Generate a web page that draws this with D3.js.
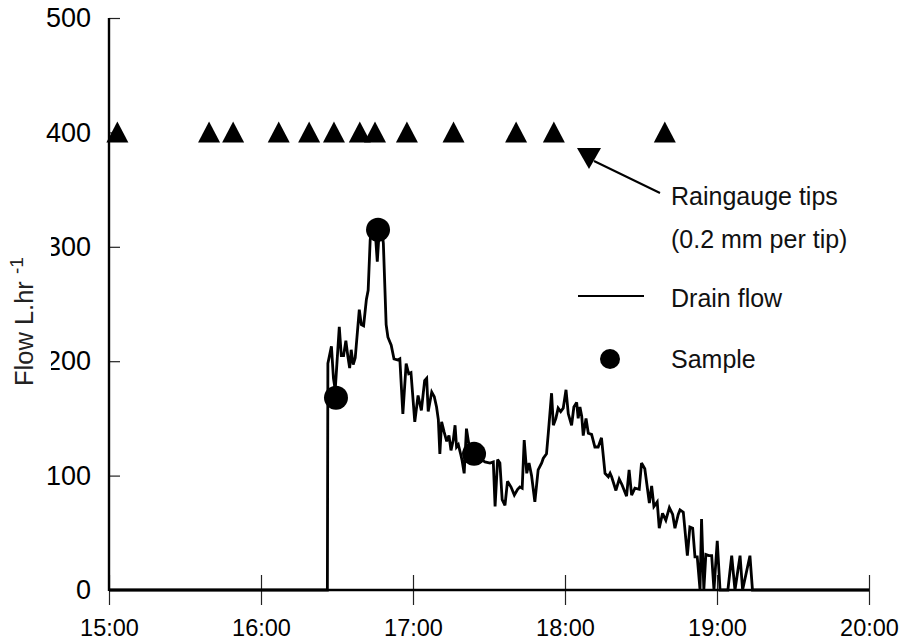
<!DOCTYPE html>
<html>
<head>
<meta charset="utf-8">
<script src="https://cdn.jsdelivr.net/npm/d3@7"></script>
<style>
  html, body { margin: 0; padding: 0; background: #fff; }
  svg { display: block; font-family: "Liberation Sans", Arial, sans-serif; }
</style>
</head>
<body>
<svg id="chart" width="899" height="643"></svg>
<script>
// Drain flow record, minutes after 15:00 and flow in L/hr
const flowMinutes = [0, 86.2, 86.4, 87.8, 88.6, 89.3, 90.9, 91.7, 92.6, 93.5, 94.3, 95.0, 95.6, 96.4, 97.2,
  98.8, 99.6, 100.5, 101.6, 102.3, 103.1, 103.8, 105.0, 105.9, 106.8, 107.7, 108.3, 109.4, 110.1,
  111.4, 112.5, 114.0, 114.8, 116.0, 117.3, 118.3, 119.2, 120.7, 122.0, 123.3, 124.6, 125.4, 126.0,
  127.4, 128.4, 129.3, 130.0, 130.6, 131.3, 132.3, 133.3, 134.2, 135.0, 135.9, 136.6, 137.2, 137.9,
  138.9, 139.4, 140.2, 141.1, 141.8, 142.5, 143.3, 144.5, 146.4, 148.4, 150.4, 151.7, 152.4, 153.4,
  154.3, 155.2, 156.3, 157.3, 158.7, 160.0, 161.3, 162.2, 163.1, 163.9, 164.9, 165.8, 166.8, 168.1,
  169.4, 170.8, 171.4, 172.7, 173.4, 174.7, 175.4, 176.4, 177.3, 178.3, 179.3, 180.4, 181.3, 182.6,
  183.5, 184.6, 185.2, 185.9, 186.6, 187.2, 188.3, 189.2, 190.5, 191.8, 193.1, 194.4, 195.8, 197.1,
  197.8, 198.4, 200.1, 201.4, 202.5, 204.3, 205.3, 206.3, 207.6, 209.3, 210.2, 211.5, 213.3, 214.2,
  215.1, 216.4, 217.2, 218.5, 219.8, 221.2, 222.5, 223.4, 224.7, 225.4, 226.7, 228.3, 229.3, 230.4,
  231.3, 232.2, 233.3, 233.9, 234.8, 235.6, 236.8, 237.9, 238.8, 240.1, 241.2, 244.3, 245.8, 247.1,
  249.1, 250.1, 253.0, 254.0, 300];
const flowValues = [0, 0, 198, 213, 185, 175, 230, 205, 205, 218, 204, 194, 210, 197, 203,
  245, 232, 231, 254, 262, 306, 318, 316, 287, 318, 316, 303, 232, 221,
  214, 202, 201, 202, 154, 198, 189, 190, 147, 170, 157, 183, 185, 156,
  173, 169, 160, 149, 119, 147, 138, 130, 135, 122, 131, 144, 125, 127,
  118, 113, 102, 141, 131, 122, 112, 114, 115, 112, 111, 112, 73, 114,
  111, 79, 74, 95, 90, 83, 88, 90, 89, 131, 102, 111, 100, 77,
  105, 111, 115, 119, 137, 172, 144, 150, 159, 156, 159, 175, 154, 144,
  160, 164, 150, 160, 152, 135, 150, 137, 136, 125, 125, 133, 102, 99,
  102, 99, 87, 97, 92, 82, 105, 83, 89, 88, 111, 106, 76, 91,
  73, 77, 54, 67, 61, 72, 66, 54, 66, 70, 68, 30, 55, 54,
  29, 29, 0, 62, 0, 31, 30, 30, 0, 43, 0, 0, 30, 0,
  30, 0, 30, 0, 0];

// Water samples taken during the event
const sampleMinutes = [89.6, 106.2, 144.1];
const sampleValues = [168, 315, 119];

// Raingauge tips (plotted at 400 on the flow axis)
const tipMinutes = [3.3, 39.5, 49, 67, 79, 88.8, 99, 105, 117.6, 136, 160.7, 175.6, 219.4];
const tipLevel = 400;

const yTicks = [0, 100, 200, 300, 400, 500];
const xTickHours = [15, 16, 17, 18, 19, 20];

const legendLabels = ["Raingauge tips", "(0.2 mm per tip)", "Drain flow", "Sample"];

const start = new Date(2000, 0, 1, 15, 0, 0);
const toTime = m => new Date(start.getTime() + m * 60000);

const svg = d3.select("#chart");

const x = d3.scaleTime()
  .domain([start, new Date(2000, 0, 1, 20, 0, 0)])
  .range([109, 869]);
const y = d3.scaleLinear().domain([0, 500]).range([590, 18]);

// Axes
const xAxis = d3.axisBottom(x)
  .tickValues(xTickHours.map(h => new Date(2000, 0, 1, h, 0, 0)))
  .tickFormat(d3.timeFormat("%H:%M"))
  .tickSizeInner(15).tickSizeOuter(0).tickPadding(14);

const gx = svg.append("g").attr("transform", `translate(0,${y(0)})`).call(xAxis);
gx.select(".domain").remove();
gx.selectAll(".tick line").attr("y1", -15).attr("stroke", "#222").attr("stroke-width", 1.2);
gx.selectAll(".tick text").attr("font-size", 23.5).attr("fill", "#000")
  .attr("font-family", "Liberation Sans, Arial, sans-serif");

const yAxis = d3.axisLeft(y).tickValues(yTicks).tickSizeInner(12).tickSizeOuter(0).tickPadding(6);
const gy = svg.append("g").attr("transform", `translate(${x.range()[0]},0)`).call(yAxis);
gy.select(".domain").remove();
gy.selectAll(".tick line").attr("x2", 11).attr("stroke", "#222").attr("stroke-width", 1.2);
gy.selectAll(".tick text").attr("font-size", 27).attr("fill", "#000")
  .attr("font-family", "Liberation Sans, Arial, sans-serif");

// Axis lines
svg.append("line")
  .attr("x1", x.range()[0]).attr("x2", x.range()[0])
  .attr("y1", y(500)).attr("y2", y(0) + 1)
  .attr("stroke", "#000").attr("stroke-width", 2.4);
svg.append("line")
  .attr("x1", x.range()[0]).attr("x2", x.range()[1])
  .attr("y1", y(0)).attr("y2", y(0))
  .attr("stroke", "#000").attr("stroke-width", 2.6);

// Y title with white label box
svg.append("rect").attr("x", 6).attr("y", 232).attr("width", 45).attr("height", 160).attr("fill", "#fff");
const title = svg.append("text")
  .attr("transform", "translate(33,386) rotate(-90)")
  .attr("font-size", 25.5).attr("fill", "#222");
title.append("tspan").text("Flow L.hr ");
title.append("tspan").attr("dy", -10).attr("font-size", 19).text("-1");

// Drain flow line
const line = d3.line()
  .x((d, i) => x(toTime(flowMinutes[i])))
  .y(d => y(d));
svg.append("path")
  .datum(flowValues)
  .attr("d", line)
  .attr("fill", "none")
  .attr("stroke", "#000")
  .attr("stroke-width", 2.8)
  .attr("stroke-linejoin", "miter")
  .attr("stroke-miterlimit", 3);

// Samples
svg.selectAll("circle.sample")
  .data(sampleValues)
  .join("circle")
  .attr("class", "sample")
  .attr("cx", (d, i) => x(toTime(sampleMinutes[i])))
  .attr("cy", d => y(d))
  .attr("r", 12)
  .attr("fill", "#000");

// Raingauge tips
const upTri = "M0,-11L11,10L-11,10Z";
svg.selectAll("path.tip")
  .data(tipMinutes)
  .join("path")
  .attr("class", "tip")
  .attr("d", upTri)
  .attr("transform", d => `translate(${x(toTime(d))},${y(tipLevel)})`)
  .attr("fill", "#000");

// Legend
const lg = svg.append("g");
lg.append("path").attr("d", "M0,11L12,-10L-12,-10Z")
  .attr("transform", "translate(589,158)").attr("fill", "#000");
lg.append("line").attr("x1", 594).attr("y1", 161).attr("x2", 660).attr("y2", 193)
  .attr("stroke", "#000").attr("stroke-width", 2);
lg.append("line").attr("x1", 578).attr("x2", 644).attr("y1", 296).attr("y2", 296)
  .attr("stroke", "#000").attr("stroke-width", 2);
lg.append("circle").attr("cx", 610).attr("cy", 359).attr("r", 10).attr("fill", "#000");

const legendY = [205, 248, 307, 368];
lg.selectAll("text")
  .data(legendLabels)
  .join("text")
  .attr("x", 671)
  .attr("y", (d, i) => legendY[i])
  .attr("font-size", 25)
  .attr("fill", "#111")
  .text(d => d);
</script>
</body>
</html>
